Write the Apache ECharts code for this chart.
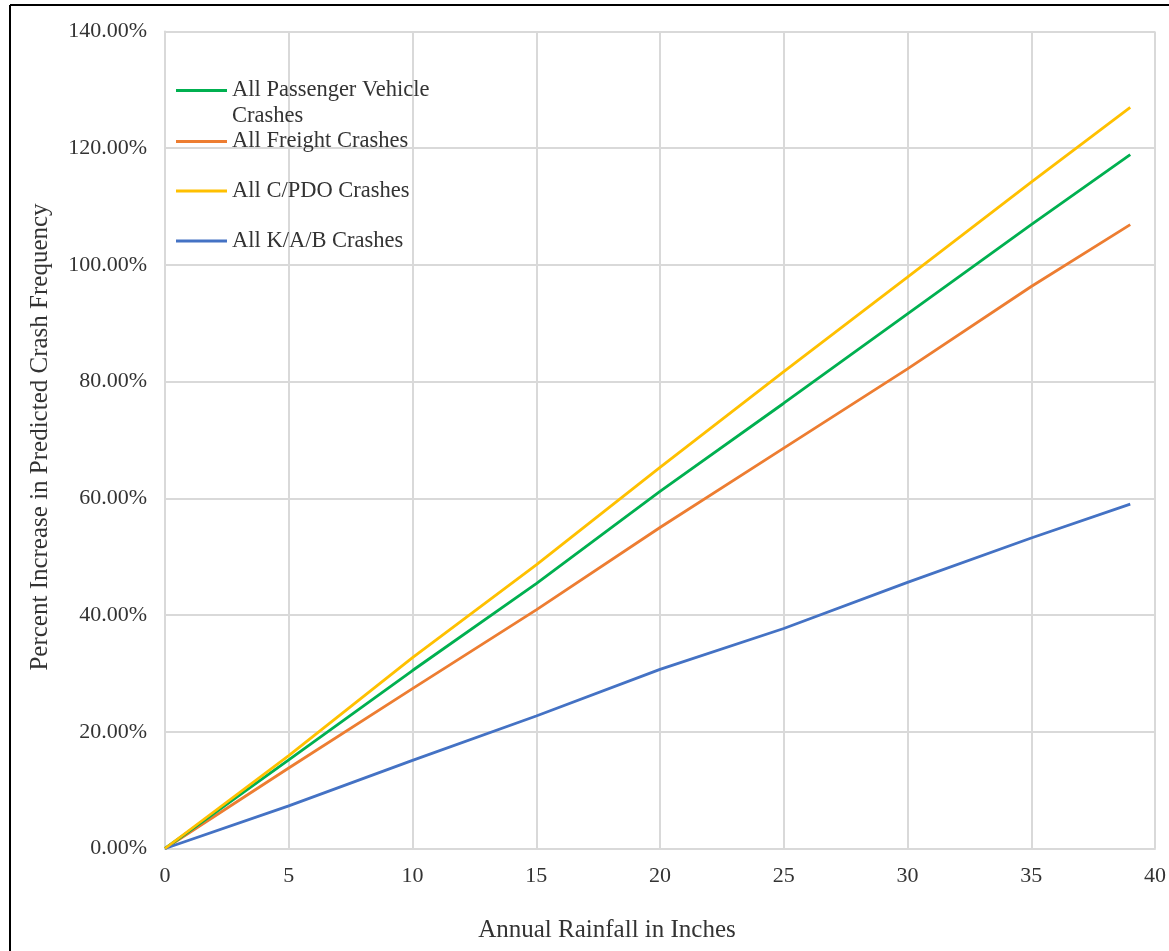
<!DOCTYPE html>
<html>
<head>
<meta charset="utf-8">
<title>Percent Increase in Predicted Crash Frequency</title>
<script src="https://cdn.jsdelivr.net/npm/echarts@6/dist/echarts.min.js"></script>
<style>
  html, body { margin: 0; padding: 0; background: #ffffff; }
  #chart { width: 1169px; height: 951px; }
</style>
</head>
<body>
<div id="chart"></div>
<script>
// Annual rainfall (inches)
const rainfall = [0, 5, 10, 15, 20, 25, 30, 35, 39];

// Percent increase in predicted crash frequency (%)
const passengerVehicle = [0, 15.2, 30.5, 45.4, 61.2, 76.3, 91.6, 106.9, 118.9];
const freight          = [0, 13.8, 27.4, 40.9, 55.0, 68.6, 82.2, 96.3, 106.9];
const cpdo             = [0, 15.9, 32.7, 48.6, 65.3, 81.7, 97.9, 114.2, 127.0];
const kab              = [0, 7.3, 15.1, 22.7, 30.7, 37.7, 45.6, 53.2, 59.0];

const seriesNames = [
  'All Passenger Vehicle Crashes',
  'All Freight Crashes',
  'All C/PDO Crashes',
  'All K/A/B Crashes'
];

const xTicks = { min: 0, max: 40, interval: 5 };
const yTicks = { min: 0, max: 140, interval: 20 };

const FONT = '"Liberation Serif", "Times New Roman", serif';
const TEXT = '#333333';
const GRID = '#d9d9d9';
const LEGEND_SIZE = 22.5;
const LINE_H = 26;

const colors = ['#00b050', '#ed7d31', '#ffc000', '#4472c4'];
const values = [passengerVehicle, freight, cpdo, kab];

const pairs = arr => rainfall.map((x, i) => [x, arr[i]]);

// one legend block per entry so each row sits at its own height
const legendCenters = [90.5, 141.5, 191, 241];
const legends = seriesNames.map((name, i) => {
  const twoLine = i === 0;
  const textStyle = {
    fontFamily: FONT,
    fontSize: LEGEND_SIZE,
    color: TEXT,
    lineHeight: LINE_H
  };
  if (twoLine) {
    // an empty leading line keeps the swatch level with the first text line
    textStyle.rich = {
      e: { fontFamily: FONT, fontSize: LEGEND_SIZE, lineHeight: LINE_H, color: TEXT },
      a: { fontFamily: FONT, fontSize: LEGEND_SIZE, lineHeight: LINE_H, color: TEXT }
    };
  }
  return {
    data: [name],
    orient: 'vertical',
    left: 176,
    top: twoLine ? legendCenters[i] - LINE_H * 1.5 : legendCenters[i] - LINE_H / 2,
    icon: 'rect',
    itemWidth: 51,
    itemHeight: 3,
    padding: 0,
    selectedMode: false,
    formatter: twoLine ? '{e| }\n{a|All Passenger Vehicle}\n{a|Crashes}' : '{name}',
    textStyle: textStyle
  };
});

const chart = echarts.init(document.getElementById('chart'), null, { renderer: 'canvas' });

chart.setOption({
  backgroundColor: '#ffffff',
  animation: false,
  color: colors,
  grid: { left: 165, right: 12, top: 31.5, bottom: 102.5, containLabel: false },
  legend: legends,
  xAxis: {
    type: 'value',
    min: xTicks.min,
    max: xTicks.max,
    interval: xTicks.interval,
    axisLine: { show: true, lineStyle: { color: GRID, width: 2 } },
    axisTick: { show: false },
    splitLine: { show: true, lineStyle: { color: GRID, width: 2 } },
    axisLabel: { fontFamily: FONT, fontSize: 22, color: TEXT, margin: 17 }
  },
  yAxis: {
    type: 'value',
    min: yTicks.min,
    max: yTicks.max,
    interval: yTicks.interval,
    axisLine: { show: true, lineStyle: { color: GRID, width: 2 } },
    axisTick: { show: false },
    splitLine: { show: true, lineStyle: { color: GRID, width: 2 } },
    axisLabel: {
      fontFamily: FONT, fontSize: 22, color: TEXT, margin: 18,
      formatter: v => v.toFixed(2) + '%'
    }
  },
  series: seriesNames.map((name, i) => ({
    name: name,
    type: 'line',
    data: pairs(values[i]),
    showSymbol: false,
    symbol: 'none',
    lineStyle: { width: 2.8, color: colors[i] },
    z: [2, 1, 3, 2][i]
  })),
  graphic: [
    // outer frame
    { type: 'line', shape: { x1: 10, y1: 5, x2: 1169, y2: 5 }, style: { stroke: '#000', lineWidth: 2 } },
    { type: 'line', shape: { x1: 10, y1: 5, x2: 10, y2: 951 }, style: { stroke: '#000', lineWidth: 2 } },
    // axis titles
    {
      type: 'text', x: 607, y: 930,
      style: {
        text: 'Annual Rainfall in Inches', fontFamily: FONT, fontSize: 25,
        fill: TEXT, textAlign: 'center', textVerticalAlign: 'middle'
      }
    },
    {
      type: 'text', x: 40, y: 437, rotation: Math.PI / 2,
      style: {
        text: 'Percent Increase in Predicted Crash Frequency', fontFamily: FONT, fontSize: 25,
        fill: TEXT, textAlign: 'center', textVerticalAlign: 'middle'
      }
    }
  ]
});
</script>
</body>
</html>
